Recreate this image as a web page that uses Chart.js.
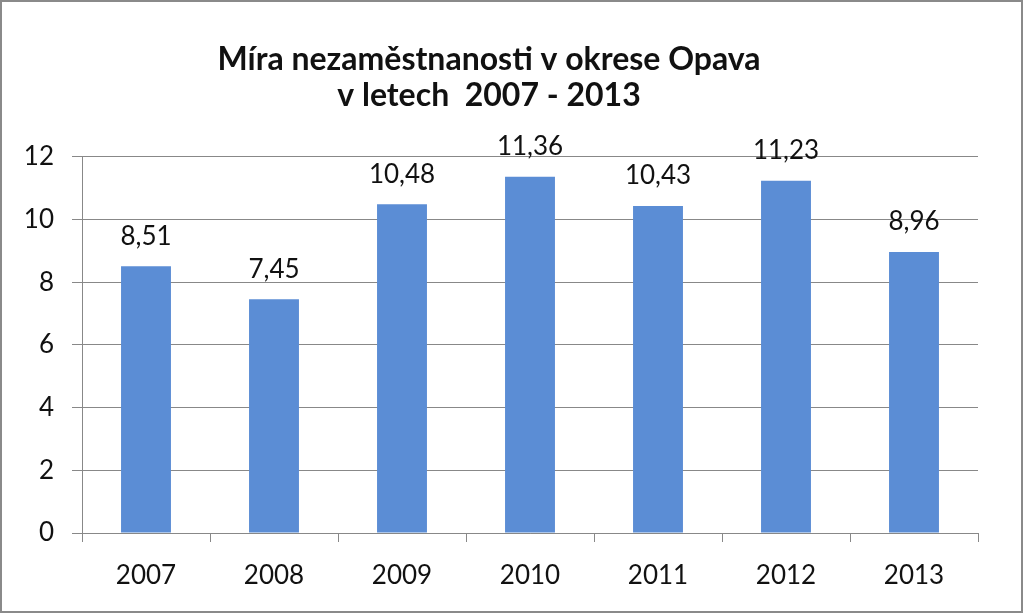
<!DOCTYPE html>
<html>
<head>
<meta charset="utf-8">
<script src="https://cdn.jsdelivr.net/npm/chart.js@4/dist/chart.umd.min.js"></script>
<style>
  body { margin: 0; background: #fff; }
  #wrap { width: 1023px; height: 613px; position: relative; }
</style>
</head>
<body>
<div id="wrap"><canvas id="chart"></canvas></div>
<script>
const years = ['2007', '2008', '2009', '2010', '2011', '2012', '2013']
const rates = [8.51, 7.45, 10.48, 11.36, 10.43, 11.23, 8.96]
const titleLines = ['Míra nezaměstnanosti v okrese Opava', 'v letech  2007 - 2013']

const fontFamily = 'Lato, "Open Sans", sans-serif'

// value labels over the bars, czech decimal comma
const barLabels = {
    id: 'barLabels',
    afterDatasetsDraw(chart) {
        const ctx = chart.ctx
        ctx.save()
        ctx.font = '26px ' + fontFamily
        ctx.fillStyle = '#111'
        ctx.textAlign = 'center'
        ctx.textBaseline = 'bottom'
        chart.getDatasetMeta(0).data.forEach((bar, i) => {
            ctx.fillText(rates[i].toFixed(2).replace('.', ','), bar.x, bar.y - 17)
        })
        ctx.restore()
    }
}

const frame = {
    id: 'frame',
    afterDraw(chart) {
        const ctx = chart.ctx
        ctx.save()
        ctx.strokeStyle = '#8a8a8a'
        ctx.lineWidth = 2
        ctx.strokeRect(1, 1, chart.width - 2, chart.height - 2)
        ctx.restore()
    }
}

const ctx = document.getElementById('chart')
new Chart(ctx, {
    type: 'bar',
    data: {
        labels: years,
        datasets: [{
            data: rates,
            backgroundColor: '#5b8dd5',
            barPercentage: 0.39,
            categoryPercentage: 1
        }]
    },
    plugins: [barLabels, frame],
    options: {
        responsive: true,
        maintainAspectRatio: false,
        animation: false,
        layout: { padding: { left: 0, right: 45, top: 0, bottom: 0 } },
        plugins: {
            legend: { display: false },
            tooltip: { enabled: false },
            title: {
                display: true,
                text: titleLines,
                color: '#111',
                font: { family: fontFamily, size: 32, weight: 'bold', lineHeight: 1.12 },
                padding: { top: 42, bottom: 43 }
            }
        },
        scales: {
            x: {
                grid: { drawOnChartArea: false, offset: true, tickLength: 9, color: '#888' },
                border: { color: '#888' },
                ticks: { color: '#111', padding: 18, font: { family: fontFamily, size: 26 } },
                afterFit(scale) { scale.height = 80 }
            },
            y: {
                min: 0,
                max: 12,
                ticks: { stepSize: 2, color: '#111', padding: 18, font: { family: fontFamily, size: 26 } },
                grid: { color: '#888', tickLength: 10 },
                border: { color: '#888' },
                afterFit(scale) { scale.width = 82 }
            }
        }
    }
})
</script>
</body>
</html>
